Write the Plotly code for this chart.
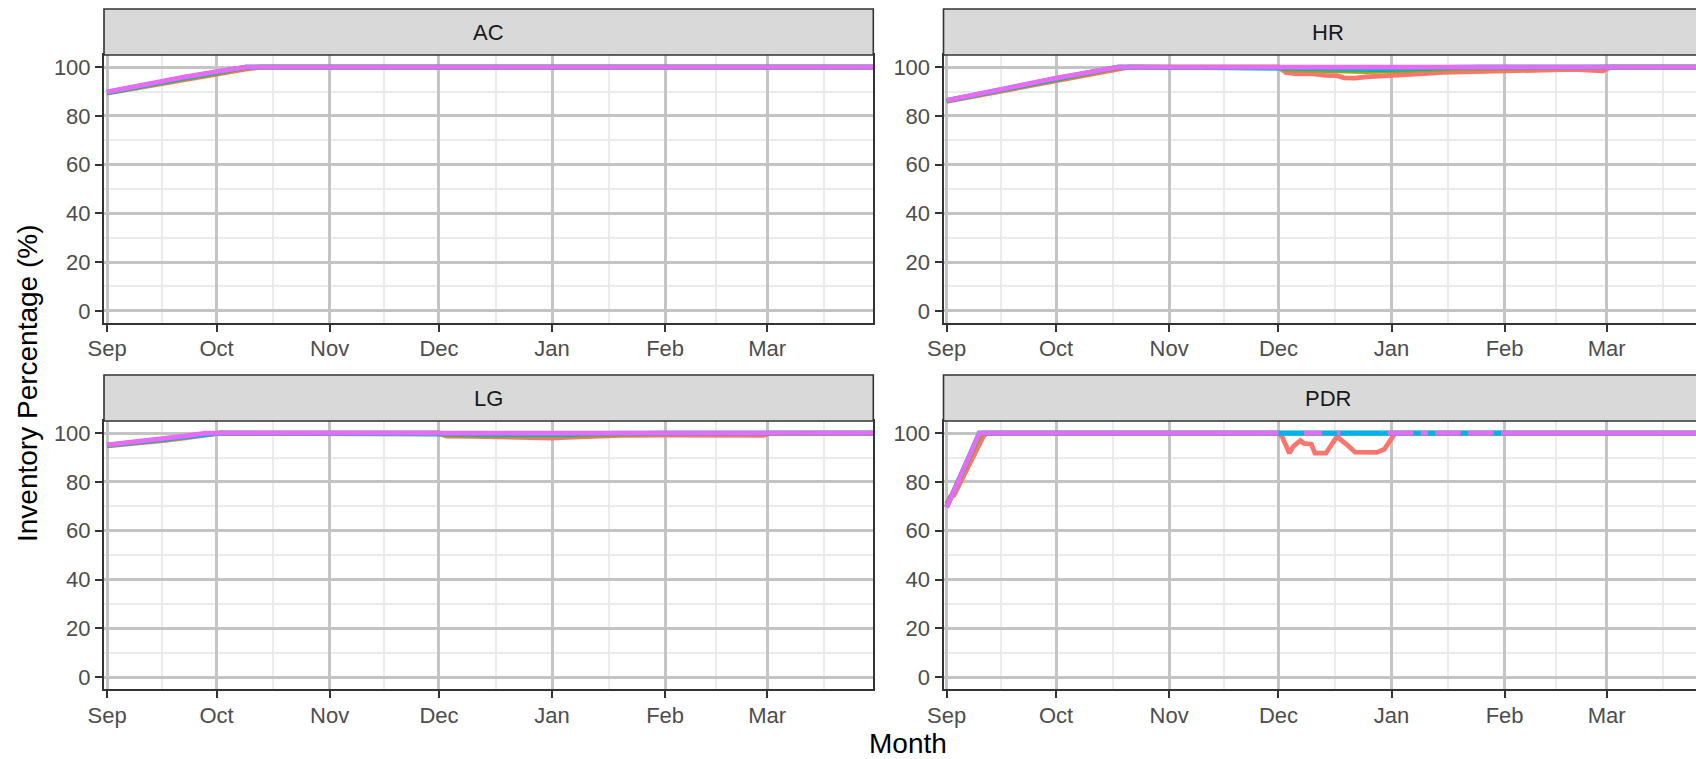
import pandas as pd
import plotly.graph_objects as go

# ---------------------------------------------------------------- data
FACETS = ["AC", "HR", "LG", "PDR"]
SERIES = ["Scenario 1", "Scenario 2", "Scenario 3", "Scenario 4", "Scenario 5"]
COLORS = ["#F8766D", "#A3A500", "#00BF7D", "#00B0F6", "#E76BF3"]
MONTH_TICKS = ["2022-09-01", "2022-10-01", "2022-11-01", "2022-12-01",
               "2023-01-01", "2023-02-01", "2023-03-01"]
Y_TICKS = [0, 20, 40, 60, 80, 100]

# AC
AC_DATES = ["2022-09-01", "2022-09-08", "2022-09-15", "2022-09-22", "2022-10-01",
            "2022-10-05", "2022-10-09", "2022-10-13", "2023-03-31"]
AC_S1 = [89.3, 91.2, 93.0, 94.8, 97.2, 98.2, 99.2, 100, 100]
AC_S2 = [89.5, 91.5, 93.4, 95.2, 97.5, 98.6, 99.7, 100, 100]
AC_S3 = [89.6, 91.7, 93.6, 95.5, 97.8, 98.9, 100, 100, 100]
AC_S4 = [89.7, 91.8, 93.8, 95.7, 98.0, 99.1, 100, 100, 100]
AC_S5 = [89.9, 92.0, 94.0, 95.9, 98.2, 99.2, 100, 100, 100]

# HR
HR_DATES = ["2022-09-01", "2022-09-08", "2022-09-15", "2022-09-22", "2022-10-01",
            "2022-10-08", "2022-10-14", "2022-10-18", "2022-10-21",
            "2022-12-01", "2022-12-03", "2022-12-06", "2022-12-10", "2022-12-14",
            "2022-12-17", "2022-12-19", "2022-12-22", "2022-12-25", "2022-12-28",
            "2023-01-01", "2023-01-05", "2023-01-10", "2023-01-15", "2023-01-20",
            "2023-01-25", "2023-02-01", "2023-02-05", "2023-02-10", "2023-02-15",
            "2023-02-20", "2023-02-25", "2023-02-28", "2023-03-02", "2023-03-31"]
HR_S1 = [86.0, 88.0, 90.0, 91.9, 94.6, 96.5, 98.2, 99.3, 100,
         100, 97.8, 97.3, 97.4, 96.6, 96.5, 95.6, 95.5, 96.0, 96.2,
         96.4, 96.7, 97.4, 97.9, 98.1, 98.3,
         98.6, 98.4, 98.9, 98.7, 99.1, 98.7, 98.5, 100, 100]
HR_S2 = [86.2, 88.3, 90.3, 92.3, 95.0, 97.0, 98.6, 99.7, 100,
         100, 99.0, 98.9, 98.7, 98.5, 98.3, 98.2, 98.1, 98.2, 98.3,
         98.4, 98.6, 98.9, 99.2, 99.4, 99.5,
         99.6, 99.6, 99.7, 99.7, 99.8, 99.8, 99.8, 100, 100]
HR_S3 = [86.3, 88.4, 90.5, 92.4, 95.2, 97.2, 98.8, 100, 100,
         100, 99.6, 99.5, 99.4, 99.2, 99.0, 98.9, 98.9, 98.9, 99.0,
         99.1, 99.3, 99.5, 99.7, 99.9, 100,
         100, 100, 100, 100, 100, 100, 100, 100, 100]
HR_S4 = [86.3, 88.5, 90.5, 92.5, 95.3, 97.3, 98.9, 100, 100,
         100, 99.8, 99.7, 99.6, 99.5, 99.4, 99.3, 99.3, 99.3, 99.4,
         99.5, 99.7, 99.8, 100, 100, 100,
         100, 100, 100, 100, 100, 100, 100, 100, 100]
HR_S5 = [86.4, 88.6, 90.6, 92.6, 95.5, 97.4, 99.0, 100, 100,
         100, 100, 100, 100, 100, 100, 100, 100, 100, 100,
         100, 100, 100, 100, 100, 100,
         100, 100, 100, 100, 100, 100, 100, 100, 100]

# LG
LG_DATES = ["2022-09-01", "2022-09-08", "2022-09-15", "2022-09-22", "2022-09-28",
            "2022-10-02", "2022-12-01", "2022-12-03", "2022-12-10", "2022-12-15",
            "2022-12-20", "2022-12-25", "2023-01-01", "2023-01-05", "2023-01-10",
            "2023-01-15", "2023-01-20", "2023-02-01", "2023-02-10", "2023-02-20",
            "2023-02-28", "2023-03-02", "2023-03-31"]
LG_S1 = [94.8, 95.7, 96.8, 98.0, 99.2, 100, 100, 98.8, 98.7, 98.5, 98.3, 98.0,
         98.0, 98.3, 98.7, 99.0, 99.1, 99.2, 99.3, 99.2, 99.1, 100, 100]
LG_S2 = [94.9, 95.9, 97.0, 98.3, 99.5, 100, 100, 99.3, 99.2, 99.1, 99.0, 98.9,
         98.9, 99.1, 99.3, 99.5, 99.7, 99.8, 99.9, 100, 100, 100, 100]
LG_S3 = [95.0, 96.0, 97.2, 98.5, 99.7, 100, 100, 99.6, 99.5, 99.4, 99.3, 99.2,
         99.2, 99.4, 99.6, 99.8, 100, 100, 100, 100, 100, 100, 100]
LG_S4 = [95.1, 96.2, 97.4, 98.6, 99.8, 100, 100, 99.8, 99.7, 99.6, 99.6, 99.5,
         99.5, 99.6, 99.8, 100, 100, 100, 100, 100, 100, 100, 100]
LG_S5 = [95.2, 96.3, 97.5, 98.8, 100, 100, 100, 100, 100, 100, 100, 100,
         100, 100, 100, 100, 100, 100, 100, 100, 100, 100, 100]

# PDR (None = no record for that day)
PDR_DATES = ["2022-09-01", "2022-09-02", "2022-09-03", "2022-09-05", "2022-09-07",
             "2022-09-10", "2022-09-11", "2022-09-12", "2022-09-13", "2022-11-30",
             "2022-12-01", "2022-12-02", "2022-12-04", "2022-12-05", "2022-12-07",
             "2022-12-08", "2022-12-09", "2022-12-10", "2022-12-11", "2022-12-12",
             "2022-12-13", "2022-12-14", "2022-12-17", "2022-12-18", "2022-12-19",
             "2022-12-20", "2022-12-22", "2022-12-28", "2022-12-30", "2022-12-31",
             "2023-01-02", "2023-01-07", "2023-01-08", "2023-01-09", "2023-01-11",
             "2023-01-12", "2023-01-13", "2023-01-20", "2023-01-21", "2023-01-22",
             "2023-01-29", "2023-01-30", "2023-01-31", "2023-03-31"]
PDR_S1 = [71.0, 74.0, 74.5, 80.5, 86.5, 95.5, 98.5, 100, 100, 100,
          100, 98.5, 91.8, 94.5, 97.0, 95.8, 95.6, 95.5, 91.8, 91.8,
          91.8, 91.8, 98.6, 97.5, 96.0, 95.0, 92.2, 92.1, 93.4, 95.9,
          100, 100, 100, 100, 100, 100, 100, 100, 100, 100,
          100, 100, 100, 100]
PDR_S2 = [70.0, 73.5, 76.0, 82.5, 89.0, 98.5, 100, 100, 100, 100,
          100, 100, 100, 100, 100, 100, 100, 100, 100, 100,
          100, 100, 100, 100, 100, 100, 100, 100, 100, 100,
          100, 100, 100, 100, 100, 100, 100, 100, 100, 100,
          100, 100, 100, 100]
PDR_S3 = [69.8, 73.0, 76.3, 83.0, 89.7, 100, 100, 100, 100, 100,
          100, 100, 100, 100, 100, 100, 100, 100, 100, 100,
          100, 100, 100, 100, 100, 100, 100, 100, 100, 100,
          100, 100, 100, 100, 100, 100, 100, 100, 100, 100,
          100, 100, 100, 100]
PDR_S4 = [69.7, 73.0, 76.3, 83.0, 89.7, 100, 100, 100, 100, 100,
          100, 100, 100, 100, 100, 100, 100, 100, 100, 100,
          100, 100, 100, 100, 100, 100, 100, 100, 100, 100,
          100, 100, 100, 100, 100, 100, 100, 100, 100, 100,
          100, 100, 100, 100]
PDR_S5 = [69.5, 72.9, 76.3, 83.1, 89.8, 100, 100, 100, 100, 100,
          100, None, None, None, None, 100, 100, 100, 100, 100,
          100, None, 100, 100, None, None, None, None, None, 100,
          100, 100, None, 100, 100, None, 100, 100, None, 100,
          100, None, 100, 100]

PANEL_DATA = {
    "AC": (AC_DATES, [AC_S1, AC_S2, AC_S3, AC_S4, AC_S5]),
    "HR": (HR_DATES, [HR_S1, HR_S2, HR_S3, HR_S4, HR_S5]),
    "LG": (LG_DATES, [LG_S1, LG_S2, LG_S3, LG_S4, LG_S5]),
    "PDR": (PDR_DATES, [PDR_S1, PDR_S2, PDR_S3, PDR_S4, PDR_S5]),
}

# ---------------------------------------------------------------- layout (pixels)
W, H = 1696, 759
COLS = [(104.0, 873.3), (943.5, 1713.0)]   # right column runs past the page edge
ROWS = [(55.0, 323.0), (421.0, 689.3)]     # panel top / bottom
STRIP_H = 46.0
PX_PER_DAY = 3.647
X_START = pd.Timestamp("2022-09-01") - pd.Timedelta(days=0.85)

FONT = "Liberation Sans, Arial, sans-serif"
TICK_FONT = dict(family=FONT, size=22, color="#4D4D4D")
BORDER = "#333333"
MAJOR_GRID = "#C4C4C4"
MINOR_GRID = "#EBEBEB"


def fx(px):
    return px / W


def fy(px):
    return 1 - px / H


month_ts = pd.to_datetime(MONTH_TICKS)
month_ext = list(month_ts) + [pd.Timestamp("2023-04-01")]
minor_x = [a + (b - a) / 2 for a, b in zip(month_ext[:-1], month_ext[1:])]

fig = go.Figure()
shapes, annotations = [], []

for i, facet in enumerate(FACETS):
    r, c = divmod(i, 2)
    x0, x1 = COLS[c]
    y_top, y_bot = ROWS[r]
    vis_x1 = min(x1, W)
    sfx = "" if i == 0 else str(i + 1)

    dates, values = PANEL_DATA[facet]
    for name, color, vals in zip(SERIES, COLORS, values):
        fig.add_trace(go.Scatter(
            x=pd.to_datetime(dates), y=vals, mode="lines", name=name,
            line=dict(color=color, width=4.8), showlegend=False,
            xaxis="x" + sfx, yaxis="y" + sfx,
        ))

    x_end = X_START + pd.Timedelta(days=(vis_x1 - x0) / PX_PER_DAY)
    fig.update_layout(**{
        "xaxis" + sfx: dict(
            type="date", domain=[fx(x0), fx(vis_x1)], anchor="y" + sfx,
            range=[X_START, x_end], tickvals=month_ts, tickformat="%b",
            ticks="outside", ticklen=7, tickwidth=2, tickcolor=BORDER,
            tickfont=TICK_FONT, ticklabelstandoff=-2,
            showgrid=True, gridcolor=MAJOR_GRID, gridwidth=2.5,
            minor=dict(tickvals=minor_x, showgrid=True, gridcolor=MINOR_GRID,
                       gridwidth=1.5, ticks=""),
            showline=True, linecolor=BORDER, linewidth=2, mirror=True,
            zeroline=False, automargin=False, fixedrange=True,
        ),
        "yaxis" + sfx: dict(
            domain=[fy(y_bot), fy(y_top)], anchor="x" + sfx,
            range=[-5, 105], tickvals=Y_TICKS,
            ticks="outside", ticklen=7, tickwidth=2, tickcolor=BORDER,
            tickfont=TICK_FONT, showgrid=True, gridcolor=MAJOR_GRID, gridwidth=2.5,
            minor=dict(tickvals=[10, 30, 50, 70, 90], showgrid=True,
                       gridcolor=MINOR_GRID, gridwidth=1.5, ticks=""),
            showline=True, linecolor=BORDER, linewidth=2, mirror=(c == 0),
            zeroline=False, automargin=False, fixedrange=True,
        ),
    })

    # facet strip
    shapes.append(dict(
        type="rect", xref="paper", yref="paper",
        x0=fx(x0), x1=fx(x1), y0=fy(y_top), y1=fy(y_top - STRIP_H),
        fillcolor="#D9D9D9", line=dict(color=BORDER, width=1.6), layer="above",
    ))
    annotations.append(dict(
        text=facet, xref="paper", yref="paper", showarrow=False,
        x=fx((x0 + x1) / 2), y=fy(y_top - STRIP_H / 2),
        xanchor="center", yanchor="middle",
        font=dict(family=FONT, size=22, color="#1A1A1A"),
    ))

annotations.append(dict(
    text="Inventory Percentage (%)", xref="paper", yref="paper", showarrow=False,
    x=fx(27), y=fy(383), xanchor="center", yanchor="middle", textangle=-90,
    font=dict(family=FONT, size=28, color="#000000"),
))
annotations.append(dict(
    text="Month", xref="paper", yref="paper", showarrow=False,
    x=fx((COLS[0][0] + COLS[1][1]) / 2), y=fy(743), xanchor="center",
    yanchor="middle", font=dict(family=FONT, size=28, color="#000000"),
))

fig.update_layout(
    width=W, height=H, autosize=False,
    margin=dict(l=0, r=0, t=0, b=0, pad=0),
    paper_bgcolor="white", plot_bgcolor="white",
    showlegend=False, shapes=shapes, annotations=annotations,
    font=dict(family=FONT),
)

fig.write_html("out.html")
